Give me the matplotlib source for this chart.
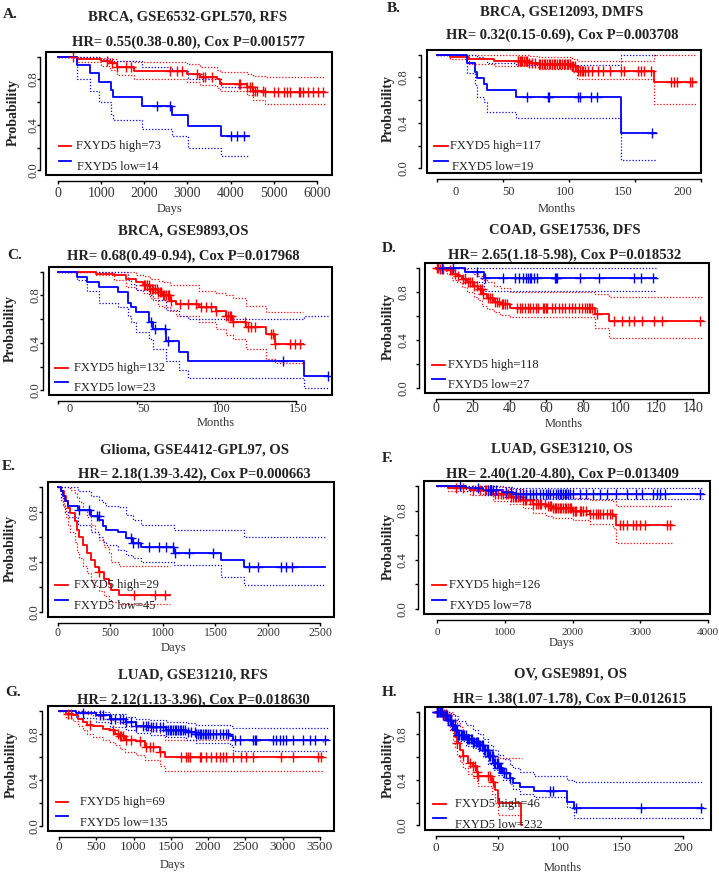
import numpy as np
import matplotlib
matplotlib.use('Agg')
import matplotlib.pyplot as plt
from matplotlib.patches import Rectangle

plt.rcParams['font.family'] = ['Liberation Serif', 'DejaVu Serif']

# ---------------- data ----------------
letters = ['A.', 'B.', 'C.', 'D.', 'E.', 'F.', 'G.', 'H.']
datasets = ['BRCA, GSE6532-GPL570, RFS', 'BRCA, GSE12093, DMFS', 'BRCA, GSE9893,OS',
            'COAD, GSE17536, DFS', 'Glioma, GSE4412-GPL97, OS', 'LUAD, GSE31210, OS',
            'LUAD, GSE31210, RFS', 'OV, GSE9891, OS']
hr_text = ['HR= 0.55(0.38-0.80), Cox P=0.001577', 'HR= 0.32(0.15-0.69), Cox P=0.003708',
           'HR= 0.68(0.49-0.94), Cox P=0.017968', 'HR= 2.65(1.18-5.98), Cox P=0.018532',
           'HR= 2.18(1.39-3.42), Cox P=0.000663', 'HR= 2.40(1.20-4.80), Cox P=0.013409',
           'HR= 2.12(1.13-3.96), Cox P=0.018630', 'HR= 1.38(1.07-1.78), Cox P=0.012615']
units = ['Days', 'Months', 'Months', 'Months', 'Days', 'Days', 'Days', 'Months']
n_high = [73, 117, 132, 118, 29, 126, 69, 46]
n_low = [14, 19, 23, 27, 45, 78, 135, 232]

x_ticks = [[0, 1000, 2000, 3000, 4000, 5000, 6000],
           [0, 50, 100, 150, 200],
           [0, 50, 100, 150],
           [0, 20, 40, 60, 80, 100, 120, 140],
           [0, 500, 1000, 1500, 2000, 2500],
           [0, 1000, 2000, 3000, 4000],
           [0, 500, 1000, 1500, 2000, 2500, 3000, 3500],
           [0, 50, 100, 150, 200]]
# where the tick labels actually sit (B and C are shifted in the source image)
x_label_pos = [None, [14, 54, 97, 141, 186], [7, 54, 103, 151], None, None, None, None, None]

# A
a_hi_t = [0, 440, 980, 1210, 1370, 1750, 2990, 3300, 3680, 3760, 4380, 4530, 4800, 6200]
a_hi_s = [1.0, 0.98, 0.965, 0.94, 0.91, 0.87, 0.845, 0.82, 0.80, 0.76, 0.73, 0.70, 0.69, 0.69]
a_hi_up = [1.0, 1.0, 0.99, 0.975, 0.96, 0.95, 0.935, 0.91, 0.88, 0.865, 0.85, 0.83, 0.82, 0.82]
a_hi_lo = [1.0, 0.95, 0.92, 0.88, 0.84, 0.80, 0.78, 0.75, 0.72, 0.70, 0.66, 0.62, 0.58, 0.58]
a_hi_c = [350, 1135, 1250, 1370, 1580, 1680, 2600, 2760, 2870, 3220, 3350, 3410, 3570, 4190,
          4220, 4390, 4460, 4490, 4530, 4570, 4610, 4760, 4800, 5000, 5110, 5230, 5300, 5380,
          5580, 5610, 5690, 5810, 5920, 6040, 6150]
a_lo_t = [0, 440, 730, 940, 1230, 1260, 1950, 2630, 3010, 3780, 4420]
a_lo_s = [1.0, 0.93, 0.86, 0.78, 0.71, 0.645, 0.57, 0.49, 0.39, 0.30, 0.30]
a_lo_up = [1.0, 1.0, 1.0, 0.98, 0.97, 0.96, 0.91, 0.88, 0.80, 0.73, 0.73]
a_lo_lo = [1.0, 0.80, 0.70, 0.60, 0.50, 0.44, 0.365, 0.30, 0.20, 0.125, 0.125]
a_lo_c = [2290, 2600, 4010, 4160, 4320]

# B
b_hi_t = [0, 9.5, 24.5, 43, 69.5, 77, 102, 106, 164.5, 196.5]
b_hi_s = [1.0, 0.98, 0.96, 0.947, 0.93, 0.918, 0.90, 0.86, 0.757, 0.757]
b_hi_up = [1.0, 1.0, 1.0, 0.995, 0.985, 0.975, 0.965, 0.945, 1.0, 1.0]
b_hi_lo = [1.0, 0.96, 0.92, 0.90, 0.89, 0.875, 0.85, 0.785, 0.57, 0.57]
b_hi_c = [61, 61.5, 62.5, 63.5, 64.5, 65.8, 67, 68.3, 69.5, 72, 74.5, 77, 78.3, 79.5, 80.8,
          82, 83.3, 84.5, 85.8, 87, 88.3, 89.5, 90.8, 92, 93.3, 94.5, 95.8, 97, 98.3, 99.5,
          100.8, 102, 103.3, 104.5, 107, 108.3, 109.5, 110.8, 112, 114.5, 117, 122, 125.8,
          130.8, 139.5, 142, 152, 154.5, 157, 162, 177, 179.5, 182, 192, 193.3]
b_lo_t = [0, 22.5, 29, 30, 35.8, 37.5, 60, 139.5, 165.8]
b_lo_s = [1.0, 0.93, 0.845, 0.79, 0.74, 0.69, 0.63, 0.31, 0.31]
b_lo_up = [1.0, 1.0, 1.0, 0.98, 0.96, 0.93, 0.91, 1.0, 1.0]
b_lo_lo = [1.0, 0.84, 0.73, 0.63, 0.58, 0.50, 0.44, 0.07, 0.07]
b_lo_c = [67.8, 83.8, 84.5, 107, 108.3, 116.3, 121.3, 162.8]

# C
c_hi_t = [0, 24, 35, 43, 49, 53.5, 58, 63, 66, 70.3, 74.5, 89, 99.7, 106, 110, 118.6, 131, 136.4, 154]
c_hi_s = [1.0, 0.985, 0.97, 0.94, 0.915, 0.885, 0.857, 0.83, 0.80, 0.757, 0.73, 0.70, 0.67,
          0.63, 0.573, 0.53, 0.475, 0.394, 0.394]
c_hi_up = [1.0, 1.0, 1.0, 1.0, 0.97, 0.96, 0.94, 0.92, 0.91, 0.89, 0.885, 0.84, 0.82, 0.80,
           0.78, 0.715, 0.66, 0.66, 0.66]
c_hi_lo = [1.0, 0.97, 0.93, 0.87, 0.85, 0.82, 0.78, 0.715, 0.70, 0.67, 0.63, 0.573, 0.516,
           0.47, 0.43, 0.346, 0.26, 0.233, 0.233]
c_hi_c = [54, 55, 56, 57, 58, 59, 60, 61, 62, 63, 64, 65, 66, 67, 68, 69, 70, 71, 76.6, 81.9,
          87.1, 90.3, 93.4, 96.6, 99.7, 106, 107, 108, 109, 110.2, 117.5, 119.6, 121.7, 123.8,
          134.3, 135.4, 136.4, 145.9, 149, 152.2]
c_lo_t = [0, 12, 18.3, 26, 37.8, 44, 46, 49, 57, 60, 68, 76, 82, 155, 170]
c_lo_s = [1.0, 0.957, 0.913, 0.87, 0.83, 0.74, 0.70, 0.66, 0.573, 0.516, 0.417, 0.323, 0.247, 0.12, 0.12]
c_lo_up = [1.0, 1.0, 1.0, 1.0, 1.0, 0.93, 0.90, 0.85, 0.80, 0.76, 0.68, 0.63, 0.60, 0.63, 0.63]
c_lo_lo = [1.0, 0.93, 0.84, 0.74, 0.70, 0.63, 0.58, 0.49, 0.43, 0.35, 0.25, 0.17, 0.10, 0.02, 0.02]
c_lo_c = [58.8, 61, 67.5, 69, 141.7, 170]

# D
d_hi_t = [0, 2, 5.8, 8.5, 11.3, 14, 16.7, 20.4, 23, 25, 27.6, 31.3, 35, 40.4, 86.7, 94, 145.3]
d_hi_s = [1.0, 0.99, 0.978, 0.95, 0.935, 0.907, 0.88, 0.85, 0.823, 0.78, 0.753, 0.72, 0.70,
          0.67, 0.62, 0.556, 0.556]
d_hi_up = [1.0, 1.0, 1.0, 1.0, 1.0, 0.99, 0.97, 0.95, 0.93, 0.90, 0.88, 0.85, 0.83, 0.80,
           0.78, 0.76, 0.76]
d_hi_lo = [1.0, 0.97, 0.95, 0.90, 0.88, 0.84, 0.80, 0.76, 0.73, 0.68, 0.66, 0.63, 0.61, 0.59,
           0.50, 0.415, 0.415]
d_hi_c = [0.4, 1.3, 2.2, 3.1, 4, 7.6, 10.4, 12.2, 14.9, 15.8, 17.6, 18.5, 19.5, 20.4, 22.2, 24,
          24.9, 25.8, 28.5, 29.5, 30.4, 32.2, 33.1, 34, 35.8, 36.7, 37.6, 38.5, 44, 45.5, 46.9,
          48.4, 49.8, 51.3, 52.7, 54.2, 55.6, 58.2, 58.9, 59.6, 60.4, 63.1, 64.9, 66.7, 68.5,
          70.4, 72.2, 74, 75.8, 77.6, 79.5, 81.3, 82.2, 83.1, 84, 84.9, 87.6, 96.7, 101.3,
          104.9, 107.6, 112.2, 118.5, 123.1, 143.5]
d_lo_t = [0, 15.8, 26.2, 119.5]
d_lo_s = [1.0, 0.963, 0.916, 0.916]
d_lo_up = [1.0, 1.0, 1.0, 1.0]
d_lo_lo = [1.0, 0.88, 0.81, 0.81]
d_lo_c = [3.1, 9.1, 22.2, 26.7, 36.7, 43.1, 45.3, 47.1, 48.9, 50, 50.9, 51.8, 53.1, 54.9,
          64.9, 65.5, 65.8, 78.5, 88.9, 107.6, 111.3, 118]

# E
e_hi_t = [0, 31, 54, 79, 95, 117, 158, 180, 199, 237, 275, 316, 348, 395, 443, 490, 506, 579, 1066]
e_hi_s = [1.0, 0.967, 0.926, 0.886, 0.832, 0.79, 0.725, 0.658, 0.604, 0.537, 0.47, 0.416,
          0.36, 0.32, 0.268, 0.228, 0.174, 0.134, 0.134]
e_hi_up = [1.0, 1.0, 1.0, 1.0, 1.0, 0.98, 0.95, 0.92, 0.88, 0.82, 0.76, 0.70, 0.64, 0.58,
           0.52, 0.47, 0.40, 0.37, 0.37]
e_hi_lo = [1.0, 0.90, 0.83, 0.76, 0.70, 0.64, 0.56, 0.48, 0.43, 0.37, 0.31, 0.26, 0.21, 0.17,
           0.13, 0.10, 0.08, 0.067, 0.067]
e_hi_c = [395, 728, 927, 1022]
e_lo_t = [0, 25, 47, 70, 95, 190, 316, 395, 427, 459, 570, 649, 712, 791, 1108, 1551, 1772, 2547]
e_lo_s = [1.0, 0.967, 0.926, 0.886, 0.846, 0.82, 0.77, 0.74, 0.685, 0.658, 0.644, 0.59, 0.55,
          0.518, 0.475, 0.42, 0.362, 0.362]
e_lo_up = [1.0, 1.0, 1.0, 1.0, 1.0, 0.97, 0.93, 0.90, 0.87, 0.85, 0.84, 0.78, 0.74, 0.70,
           0.66, 0.66, 0.60, 0.60]
e_lo_lo = [1.0, 0.92, 0.86, 0.80, 0.76, 0.70, 0.64, 0.60, 0.56, 0.54, 0.50, 0.46, 0.43, 0.40,
           0.376, 0.28, 0.215, 0.215]
e_lo_c = [199, 294, 373, 389, 696, 712, 759, 870, 959, 1028, 1092, 1114, 1244, 1472, 1820,
          1908, 2120, 2174, 2231]

# F
f_hi_t = [0, 162, 482, 826, 1072, 1269, 1417, 1613, 1712, 2007, 2253, 2597, 2646, 3458]
f_hi_s = [1.0, 0.984, 0.964, 0.937, 0.91, 0.883, 0.855, 0.836, 0.82, 0.80, 0.773, 0.754, 0.68, 0.68]
f_hi_up = [1.0, 1.0, 1.0, 0.99, 0.975, 0.96, 0.94, 0.925, 0.91, 0.90, 0.885, 0.875, 0.84, 0.84]
f_hi_lo = [1.0, 0.96, 0.93, 0.88, 0.85, 0.82, 0.78, 0.755, 0.74, 0.72, 0.69, 0.66, 0.535, 0.535]
f_hi_c = [285, 384, 531, 630, 703, 728, 777, 802, 851, 900, 949, 974, 1023, 1048, 1097, 1121,
          1146, 1171, 1195, 1220, 1269, 1294, 1318, 1367, 1417, 1466, 1490, 1515, 1540, 1589,
          1638, 1663, 1687, 1712, 1736, 1761, 1786, 1810, 1835, 1859, 1884, 1909, 1933, 1958,
          1982, 2007, 2031, 2056, 2105, 2130, 2154, 2204, 2253, 2302, 2351, 2376, 2400, 2450,
          2499, 2548, 2573, 2696, 2745, 2794, 2892, 2941, 2991, 3064, 3384, 3433]
f_lo_t = [0, 433, 679, 974, 1121, 3925]
f_lo_s = [1.0, 0.984, 0.964, 0.95, 0.937, 0.937]
f_lo_up = [1.0, 1.0, 1.0, 0.99, 0.98, 0.98]
f_lo_lo = [1.0, 0.955, 0.93, 0.91, 0.89, 0.89]
f_lo_c = [334, 605, 753, 777, 802, 826, 876, 1023, 1097, 1171, 1220, 1269, 1318, 1367, 1417,
          1466, 1515, 1564, 1613, 1638, 1663, 1712, 1761, 1786, 1810, 1835, 1859, 1884, 1909,
          1933, 1958, 2007, 2105, 2204, 2302, 2400, 2499, 2646, 2794, 2941, 3015, 3187, 3237,
          3286, 3360, 3876]

# G
g_hi_t = [0, 98, 188, 255, 322, 376, 457, 591, 680, 748, 815, 882, 1038, 1150, 1352, 1419, 3545]
g_hi_s = [1.0, 0.974, 0.96, 0.93, 0.90, 0.88, 0.864, 0.844, 0.83, 0.80, 0.777, 0.748, 0.736,
          0.684, 0.646, 0.602, 0.602]
g_hi_up = [1.0, 1.0, 1.0, 1.0, 0.99, 0.97, 0.95, 0.93, 0.92, 0.90, 0.89, 0.87, 0.86, 0.83,
           0.79, 0.75, 0.73]
g_hi_lo = [1.0, 0.94, 0.91, 0.87, 0.83, 0.80, 0.77, 0.75, 0.73, 0.70, 0.67, 0.64, 0.62, 0.57,
           0.52, 0.48, 0.474]
g_hi_c = [121, 166, 412, 725, 792, 815, 837, 859, 904, 971, 1083, 1173, 1218, 1262, 1352, 1643,
          1710, 1732, 1755, 1889, 1911, 1979, 2046, 2113, 2158, 2202, 2247, 2337, 2449, 2516,
          2605, 2986, 3142, 3478, 3523]
g_lo_t = [0, 233, 501, 680, 904, 1038, 1217, 1441, 1710, 1844, 2292, 2337, 3612]
g_lo_s = [1.0, 0.98, 0.96, 0.93, 0.90, 0.87, 0.858, 0.835, 0.815, 0.795, 0.777, 0.748, 0.748]
g_lo_up = [1.0, 1.0, 0.99, 0.97, 0.945, 0.93, 0.915, 0.90, 0.89, 0.88, 0.87, 0.85, 0.85]
g_lo_lo = [1.0, 0.94, 0.90, 0.86, 0.83, 0.81, 0.79, 0.77, 0.75, 0.72, 0.70, 0.655, 0.655]
g_lo_c = [322, 546, 591, 703, 748, 815, 859, 904, 971, 1038, 1128, 1173, 1195, 1240, 1262,
          1307, 1352, 1397, 1441, 1464, 1486, 1509, 1531, 1553, 1576, 1598, 1620, 1643, 1665,
          1688, 1732, 1777, 1822, 1844, 1867, 1889, 1911, 1934, 1956, 1979, 2001, 2023, 2068,
          2113, 2158, 2202, 2247, 2269, 2359, 2426, 2605, 2628, 2650, 2874, 2919, 2963, 3008,
          3053, 3142, 3277, 3366, 3433, 3568]

# H
h_hi_t = [0, 5.9, 9.2, 11.4, 14, 15.4, 16.8, 19.5, 22.2, 26.2, 30.3, 32.9, 34.3, 45.1, 47.8,
          50.3, 68.9, 69.5]
h_hi_s = [1.0, 0.98, 0.957, 0.913, 0.84, 0.78, 0.72, 0.664, 0.606, 0.547, 0.518, 0.47, 0.435,
          0.385, 0.31, 0.196, 0.0, 0.0]
h_hi_up = [1.0, 1.0, 1.0, 1.0, 0.98, 0.93, 0.90, 0.86, 0.80, 0.76, 0.73, 0.70, 0.66, 0.62,
           0.60, 0.59, 0.59, 0.59]
h_hi_lo = [1.0, 0.93, 0.90, 0.84, 0.74, 0.68, 0.62, 0.56, 0.50, 0.45, 0.42, 0.38, 0.35, 0.28,
           0.20, 0.09, 0.09, 0.09]
h_hi_c = [1.1, 2.7, 4.6, 6.5, 8.1, 9.2, 11.9, 16.8, 22.2, 27.6, 30.3, 31.6, 33, 34.3, 42.4,
          43.8, 45.9]
h_lo_t = [0, 5.4, 9.7, 12.4, 15.1, 17.8, 24.3, 29.7, 34.3, 38.4, 42.4, 46.5, 50.5, 54.6, 60,
          62.7, 68.1, 79.5, 106, 111.4, 216]
h_lo_s = [1.0, 0.97, 0.925, 0.88, 0.84, 0.79, 0.757, 0.737, 0.707, 0.664, 0.606, 0.547, 0.50,
          0.464, 0.416, 0.37, 0.34, 0.30, 0.21, 0.153, 0.153]
h_lo_up = [1.0, 1.0, 1.0, 0.98, 0.96, 0.92, 0.88, 0.84, 0.80, 0.76, 0.71, 0.66, 0.62, 0.58,
           0.53, 0.50, 0.47, 0.435, 0.40, 0.38, 0.38]
h_lo_lo = [1.0, 0.93, 0.88, 0.84, 0.79, 0.74, 0.70, 0.68, 0.65, 0.60, 0.54, 0.49, 0.44, 0.40,
           0.36, 0.32, 0.28, 0.254, 0.158, 0.064, 0.064]
h_lo_c = [0.5, 1, 2, 3, 4, 5, 6, 7, 8, 9, 10, 11, 12, 13, 14, 15, 16, 17, 18, 19, 20, 21, 22,
          23, 24, 25, 26, 27, 28, 29, 30, 31, 32, 33, 34, 35, 36, 37, 38, 39, 40, 41, 42, 43,
          44, 45, 46, 47, 48, 49, 50, 51, 52, 53, 55, 57, 60, 92, 95, 113, 166, 215]

high_groups = [(a_hi_t, a_hi_s, a_hi_up, a_hi_lo, a_hi_c), (b_hi_t, b_hi_s, b_hi_up, b_hi_lo, b_hi_c),
               (c_hi_t, c_hi_s, c_hi_up, c_hi_lo, c_hi_c), (d_hi_t, d_hi_s, d_hi_up, d_hi_lo, d_hi_c),
               (e_hi_t, e_hi_s, e_hi_up, e_hi_lo, e_hi_c), (f_hi_t, f_hi_s, f_hi_up, f_hi_lo, f_hi_c),
               (g_hi_t, g_hi_s, g_hi_up, g_hi_lo, g_hi_c), (h_hi_t, h_hi_s, h_hi_up, h_hi_lo, h_hi_c)]
low_groups = [(a_lo_t, a_lo_s, a_lo_up, a_lo_lo, a_lo_c), (b_lo_t, b_lo_s, b_lo_up, b_lo_lo, b_lo_c),
              (c_lo_t, c_lo_s, c_lo_up, c_lo_lo, c_lo_c), (d_lo_t, d_lo_s, d_lo_up, d_lo_lo, d_lo_c),
              (e_lo_t, e_lo_s, e_lo_up, e_lo_lo, e_lo_c), (f_lo_t, f_lo_s, f_lo_up, f_lo_lo, f_lo_c),
              (g_lo_t, g_lo_s, g_lo_up, g_lo_lo, g_lo_c), (h_lo_t, h_lo_s, h_lo_up, h_lo_lo, h_lo_c)]

# ---------------- layout (pixels in a 719x873 canvas) ----------------
W, H = 719, 873
boxes = [(46, 52, 332, 175), (427, 50, 701, 173), (49, 267, 332, 395), (425, 263, 709, 393),
         (48, 482, 334, 617), (424, 481, 710, 614), (48, 706, 334, 831), (425, 707, 711, 830)]
x_lims = [(-286, 6356), (-7.7, 198), (-5.7, 172.5), (-6, 148.5), (-95, 2629), (-192, 4025),
          (-148, 3691), (-8.9, 222.7)]
title_pos = [(188, 17, 42), (562, 12, 35), (183, 231, 256), (565, 230, 255),
             (194, 450, 474), (562, 449, 474), (193, 675, 700), (570, 674, 699)]
letter_pos = [(3, 14), (387, 8), (7, 255), (382, 248), (2, 467), (382, 459), (5, 693), (382, 692)]
ylab_pos = [(13, 112), (388, 109), (10, 329), (388, 327), (10, 548), (388, 547), (11, 764), (388, 765)]
xlab_pos = [(170, 209), (557, 209), (216, 423), (564, 424), (174, 648), (562, 643), (173, 865), (563, 868)]
xtick_size = [10, 9, 9, 10, 8.5, 8, 9.5, 9.5]
xtick_pad = [6.5, 9.8, 5.9, 5.0, 5.0, 6.5, 5.2, 6.8]
ytick_pad = [2.3, 10.7, 3.5, 8.8, 3.0, 8.8, 3.0, 10.0]
# legend: line x0, x1, red y, blue line y, text x red, text x blue, blue text y (axes fraction)
legends = [(0.047, 0.086, 0.239, 0.117, 0.105, 0.11, 0.068),
           (0.027, 0.076, 0.22, 0.095, 0.083, 0.092, 0.049),
           (0.02, 0.067, 0.213, 0.104, 0.087, 0.087, 0.057),
           (0.023, 0.07, 0.218, 0.11, 0.082, 0.082, 0.059),
           (0.023, 0.07, 0.235, 0.123, 0.09, 0.09, 0.079),
           (0.029, 0.078, 0.215, 0.108, 0.0875, 0.092, 0.058),
           (0.027, 0.07, 0.229, 0.12, 0.111, 0.111, 0.061),
           (0.027, 0.073, 0.211, 0.095, 0.105, 0.105, 0.041)]

RED = '#ff0000'
BLUE = '#0000ff'
TXT = '#222222'
TICK = '#333333'

fig = plt.figure(figsize=(W / 100, H / 100), dpi=100)


def km(ax, t, s, up, lo, cens, color):
    ax.step(t, s, where='post', color=color, lw=1.3, zorder=3)
    ax.step(t, up, where='post', color=color, lw=0.9, ls=(0, (1, 1.5)), zorder=2)
    ax.step(t, lo, where='post', color=color, lw=0.9, ls=(0, (1, 1.5)), zorder=2)
    idx = np.searchsorted(t, cens, side='right') - 1
    ax.plot(cens, np.asarray(s)[idx], ls='none', marker='+', ms=7, mew=1.0,
            color=color, zorder=4)


for i in range(8):
    l, t, r, b = boxes[i]
    ax = fig.add_axes([l / W, 1 - b / H, (r - l) / W, (b - t) / H])
    km(ax, *high_groups[i], RED)
    km(ax, *low_groups[i], BLUE)

    ax.set_xlim(x_lims[i])
    ax.set_ylim(-0.04, 1.04)
    ax.add_patch(Rectangle((0, 0), 1, 1, transform=ax.transAxes, fill=False,
                           lw=1.5, ec='black', clip_on=False, zorder=6))
    for side in ['top', 'right']:
        ax.spines[side].set_visible(False)
    ax.spines['left'].set_position(('outward', 4))
    ax.spines['bottom'].set_position(('outward', 4))
    ax.spines['left'].set_bounds(0, 1)
    ax.spines['bottom'].set_bounds(x_ticks[i][0], x_ticks[i][-1])
    ax.spines['left'].set_linewidth(1.0)
    ax.spines['bottom'].set_linewidth(1.0)

    ax.set_yticks([0, 0.2, 0.4, 0.6, 0.8, 1.0])
    ax.set_yticklabels(['0.0', '', '0.4', '', '0.8', ''], rotation=90, va='center',
                       ha='center', fontsize=9, color=TICK)
    ax.set_xticks(x_ticks[i])
    if x_label_pos[i] is None:
        ax.set_xticklabels([str(v) for v in x_ticks[i]], fontsize=xtick_size[i],
                           color=TICK, va='center')
        ax.tick_params(axis='x', which='major', pad=xtick_pad[i])
    else:
        ax.set_xticklabels([''] * len(x_ticks[i]))
        ax.set_xticks(x_label_pos[i], minor=True)
        ax.set_xticklabels([str(v) for v in x_ticks[i]], minor=True, fontsize=xtick_size[i],
                           color=TICK, va='center')
        ax.tick_params(axis='x', which='minor', length=0, pad=xtick_pad[i])
    ax.tick_params(axis='both', which='major', length=2.5, width=1.0)
    ax.tick_params(axis='y', which='major', pad=ytick_pad[i])

    # legend drawn R style
    x0, x1, ry, by, tx_r, tx_b, bty = legends[i]
    ax.plot([x0, x1], [ry, ry], color=RED, lw=1.3, transform=ax.transAxes, zorder=5)
    ax.plot([x0, x1], [by, by], color=BLUE, lw=1.3, transform=ax.transAxes, zorder=5)
    ax.text(tx_r, ry, f'FXYD5 high={n_high[i]}', transform=ax.transAxes, fontsize=9,
            color=TXT, va='center', ha='left', zorder=5)
    ax.text(tx_b, bty, f'FXYD5 low={n_low[i]}', transform=ax.transAxes, fontsize=9,
            color=TXT, va='center', ha='left', zorder=5)

    cx, y1, y2 = title_pos[i]
    fig.text(cx / W, 1 - y1 / H, datasets[i], ha='center', va='center', fontsize=10.5,
             fontweight='bold', color=TXT)
    fig.text(cx / W, 1 - y2 / H, hr_text[i], ha='center', va='center', fontsize=10.5,
             fontweight='bold', color=TXT)
    lx, ly = letter_pos[i]
    fig.text(lx / W, 1 - ly / H, letters[i], ha='left', va='center', fontsize=11,
             fontweight='bold', color=TXT)
    yx, yy = ylab_pos[i]
    fig.text(yx / W, 1 - yy / H, 'Probability', rotation=90, ha='center', va='center',
             fontsize=10, fontweight='bold', color=TXT)
    xx, xy = xlab_pos[i]
    fig.text(xx / W, 1 - xy / H, units[i], ha='center', va='center', fontsize=9, color=TICK)

fig.savefig('out.png', dpi=100, facecolor='white')
